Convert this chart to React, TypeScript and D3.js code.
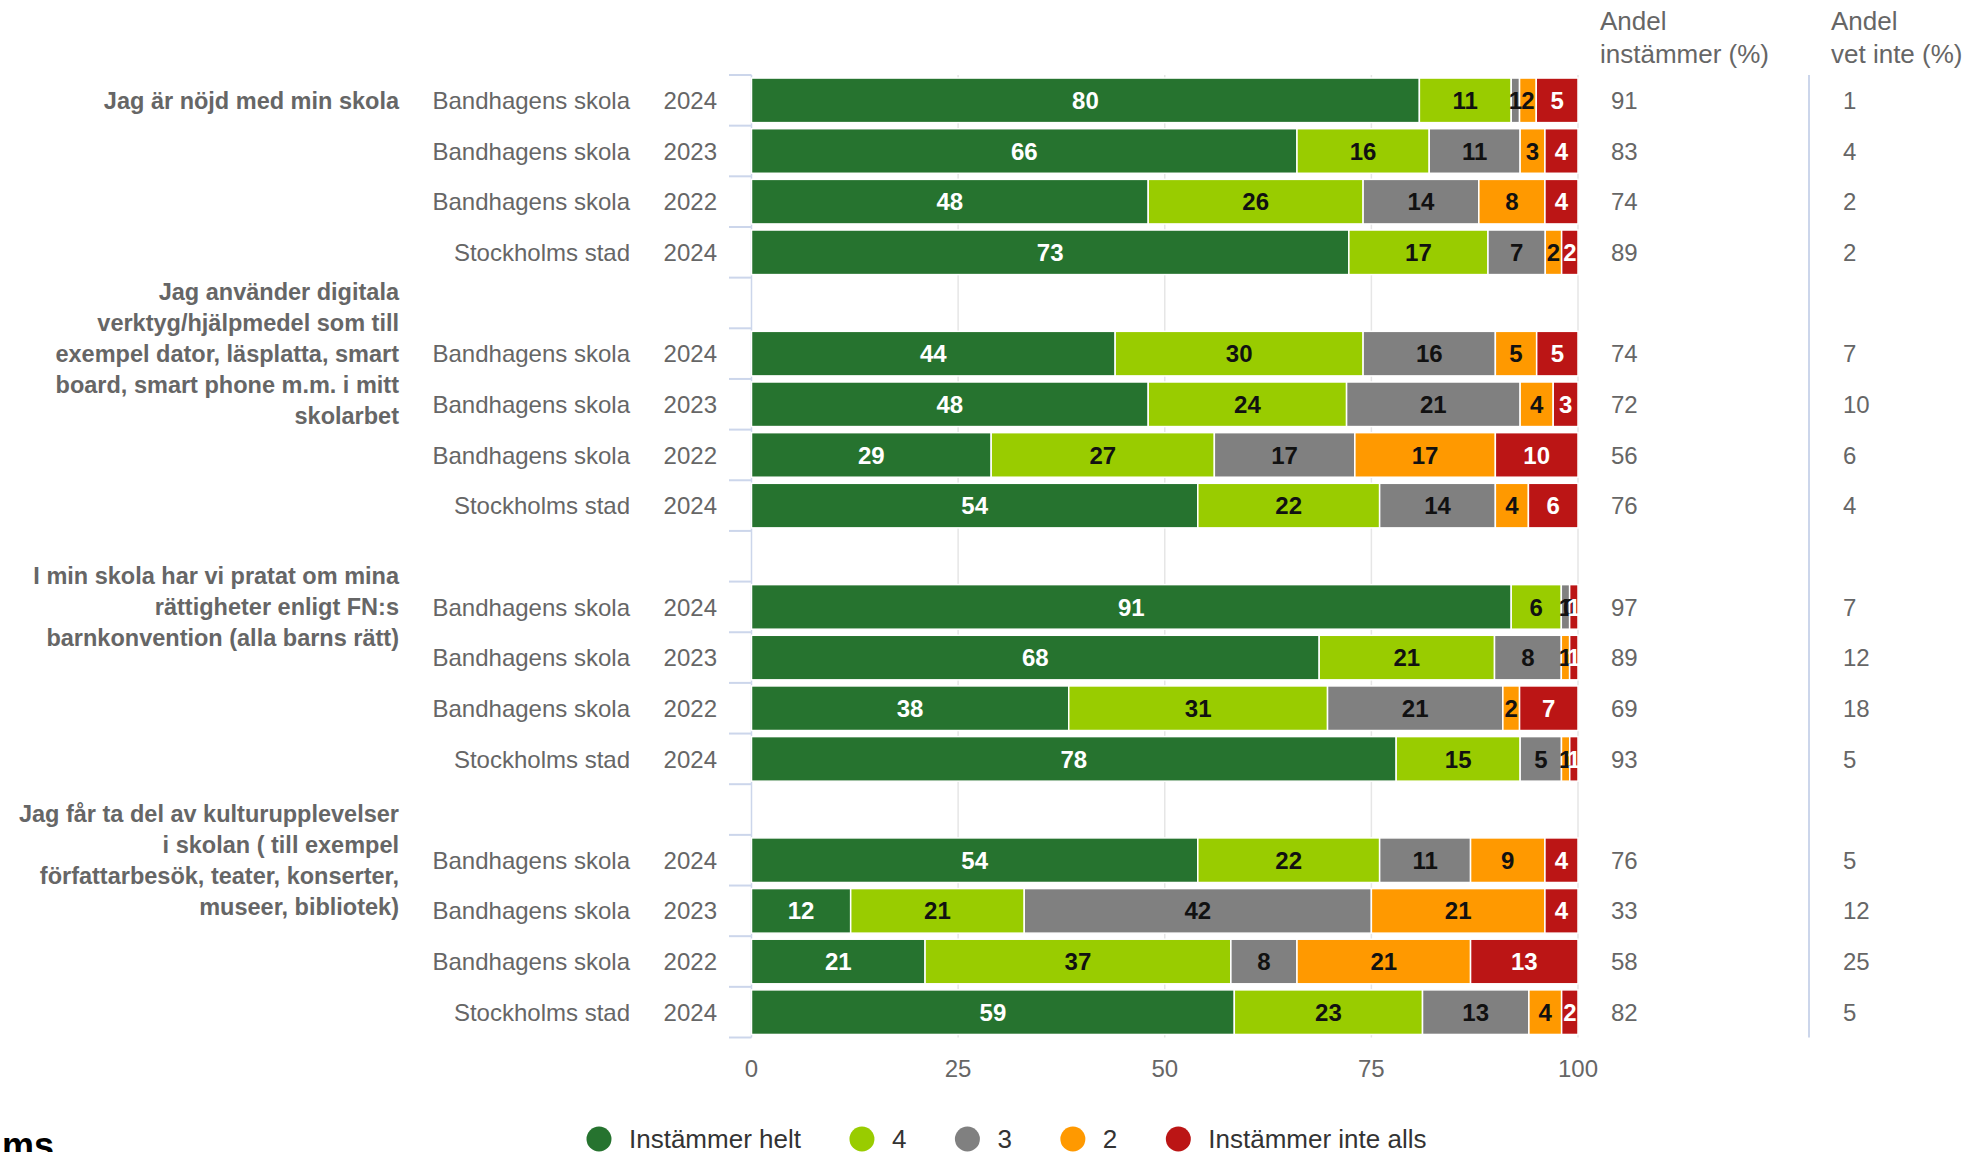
import { scaleBand, scaleLinear, stack, stackOffsetExpand } from 'd3'
import { useMemo } from 'react'

const width = 1973
const height = 1152
const font = '"Liberation Sans", Arial, sans-serif'

const questions = [
  ['Jag är nöjd med min skola'],
  ['Jag använder digitala', 'verktyg/hjälpmedel som till', 'exempel dator, läsplatta, smart', 'board, smart phone m.m. i mitt', 'skolarbet'],
  ['I min skola har vi pratat om mina', 'rättigheter enligt FN:s', 'barnkonvention (alla barns rätt)'],
  ['Jag får ta del av kulturupplevelser', 'i skolan ( till exempel', 'författarbesök, teater, konserter,', 'museer, bibliotek)'],
]

const units = ['Bandhagens skola', 'Bandhagens skola', 'Bandhagens skola', 'Stockholms stad']
const years = ['2024', '2023', '2022', '2024']

const seriesNames = ['Instämmer helt', '4', '3', '2', 'Instämmer inte alls']
const seriesColors = ['#26732f', '#99cc00', '#808080', '#ff9900', '#bb1515']
const labelColors = ['#ffffff', '#111111', '#111111', '#111111', '#ffffff']

const instammerHelt = [80, 66, 48, 73, 44, 48, 29, 54, 91, 68, 38, 78, 54, 12, 21, 59]
const fyra = [11, 16, 26, 17, 30, 24, 27, 22, 6, 21, 31, 15, 22, 21, 37, 23]
const tre = [1, 11, 14, 7, 16, 21, 17, 14, 1, 8, 21, 5, 11, 42, 8, 13]
const tva = [2, 3, 8, 2, 5, 4, 17, 4, 0, 1, 2, 1, 9, 21, 21, 4]
const inteAlls = [5, 4, 4, 2, 5, 3, 10, 6, 1, 1, 7, 1, 4, 4, 13, 2]

const andelInstammer = [91, 83, 74, 89, 74, 72, 56, 76, 97, 89, 69, 93, 76, 33, 58, 82]
const andelVetInte = [1, 4, 2, 2, 7, 10, 6, 4, 7, 12, 18, 5, 5, 12, 25, 5]

const xTicks = [0, 25, 50, 75, 100]

const seriesValues = [instammerHelt, fyra, tre, tva, inteAlls]
const slotCount = questions.length * (units.length + 1) - 1

const textWidth = (s: string, size: number) => {
  const ctx = document.createElement('canvas').getContext('2d')
  if (!ctx) return s.length * size * 0.5
  ctx.font = `${size}px ${font}`
  return ctx.measureText(s).width
}

const App = () => {
  const x = scaleLinear().domain([0, 1]).range([751.5, 1578])
  const y = scaleBand<number>()
    .domain(Array.from({ length: slotCount }, (_, i) => i))
    .range([75, 1037.5])
    .paddingInner(0.12)
    .paddingOuter(0.06)
  const step = y.step()
  const top = 75

  const rows = useMemo(
    () =>
      instammerHelt.map((_, i) => {
        const q = Math.floor(i / units.length)
        const r = i % units.length
        const row: Record<string, number> = { slot: q * (units.length + 1) + r, idx: i }
        seriesNames.forEach((name, s) => (row[name] = seriesValues[s][i]))
        return row
      }),
    [],
  )

  const stacked = useMemo(() => stack<Record<string, number>>().keys(seriesNames).offset(stackOffsetExpand)(rows), [rows])

  const legend = useMemo(() => {
    let cx = 599
    return seriesNames.map((name, i) => {
      const item = { name, color: seriesColors[i], cx }
      cx += 30 + textWidth(name, 26) + 61
      return item
    })
  }, [])

  const bandCenter = (slot: number) => (y(slot) ?? 0) + y.bandwidth() / 2

  return (
    <svg
      width={width}
      height={height}
      style={{ position: 'absolute', left: 0, top: 0, background: '#fff' }}
      fontFamily={font}
    >
      {/* grid */}
      {xTicks.slice(1).map((t) => (
        <line key={t} x1={x(t / 100)} x2={x(t / 100)} y1={top} y2={1037.5} stroke="#e6e6e6" strokeWidth={1.5} />
      ))}
      <line x1={x(0)} x2={x(0)} y1={top} y2={1037.5} stroke="#ccd6eb" strokeWidth={1.5} />
      <line x1={1809} x2={1809} y1={top} y2={1037.5} stroke="#ccd6eb" strokeWidth={2} />
      {Array.from({ length: slotCount + 1 }, (_, i) => (
        <line key={i} x1={729} x2={x(0)} y1={top + i * step} y2={top + i * step} stroke="#ccd6eb" strokeWidth={2} />
      ))}

      {/* bars */}
      {stacked.map((layer, s) => (
        <g key={layer.key}>
          {layer.map((d) => (
            <rect
              key={d.data.slot}
              x={x(d[0])}
              y={y(d.data.slot)}
              width={Math.max(0, x(d[1]) - x(d[0]))}
              height={y.bandwidth()}
              fill={seriesColors[s]}
              stroke="#fff"
              strokeWidth={1.5}
            />
          ))}
        </g>
      ))}
      {stacked.map((layer, s) => (
        <g key={`l-${layer.key}`}>
          {layer.map((d) => (
            <text
              key={d.data.slot}
              x={(x(d[0]) + x(d[1])) / 2}
              y={bandCenter(d.data.slot)}
              dy="0.36em"
              textAnchor="middle"
              fontSize={24}
              fontWeight="bold"
              fill={labelColors[s]}
            >
              {d.data[layer.key]}
            </text>
          ))}
        </g>
      ))}

      {/* row labels */}
      {rows.map((row) => {
        const cy = bandCenter(row.slot)
        const i = row.idx
        return (
          <g key={row.slot} fontSize={24} fill="#666">
            <text x={630} y={cy} dy="0.36em" textAnchor="end">
              {units[i % units.length]}
            </text>
            <text x={717} y={cy} dy="0.36em" textAnchor="end">
              {years[i % years.length]}
            </text>
            <text x={1611} y={cy} dy="0.36em">
              {andelInstammer[i]}
            </text>
            <text x={1843} y={cy} dy="0.36em">
              {andelVetInte[i]}
            </text>
          </g>
        )
      })}

      {/* question labels */}
      {questions.map((lines, q) => {
        const cy = bandCenter(q * (units.length + 1))
        const lh = 31
        return (
          <text key={q} textAnchor="end" fontSize={23.5} fontWeight="bold" fill="#666">
            {lines.map((line, j) => (
              <tspan key={j} x={399} y={cy + (j - (lines.length - 1) / 2) * lh} dy="0.36em">
                {line}
              </tspan>
            ))}
          </text>
        )
      })}

      {/* column headers */}
      <g fontSize={26} fill="#666">
        <text x={1600} y={30}>Andel</text>
        <text x={1600} y={63}>instämmer (%)</text>
        <text x={1831} y={30}>Andel</text>
        <text x={1831} y={63}>vet inte (%)</text>
      </g>

      {/* x axis labels */}
      {xTicks.map((t) => (
        <text key={t} x={x(t / 100)} y={1077} textAnchor="middle" fontSize={24} fill="#666">
          {t}
        </text>
      ))}

      {/* legend */}
      {legend.map((item) => (
        <g key={item.name}>
          <circle cx={item.cx} cy={1139} r={12.5} fill={item.color} />
          <text x={item.cx + 30} y={1139} dy="0.36em" fontSize={26} fill="#333">
            {item.name}
          </text>
        </g>
      ))}

      <text x={2} y={1158} fontSize={36} fontWeight="bold" fill="#000">
        ms
      </text>
    </svg>
  )
}

export default App
